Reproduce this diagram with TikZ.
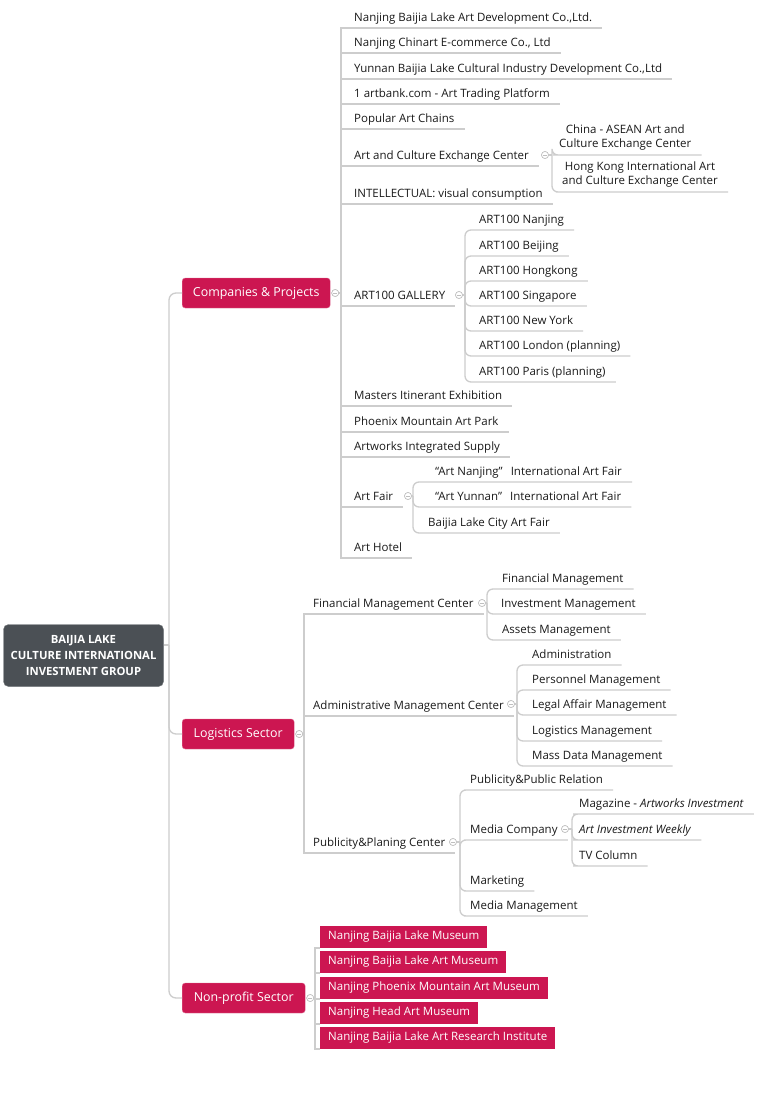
\documentclass[tikz,border=0pt]{standalone}
\usepackage{fontspec}
\setmainfont{Open Sans}
\usetikzlibrary{positioning}

\definecolor{crimson}{HTML}{CC1651}
\definecolor{rootgray}{HTML}{4B5055}
\definecolor{linegray}{HTML}{CDCDCD}
\definecolor{ink}{HTML}{1A1A1A}
\newcommand\leaffont{\fontsize{11.5}{14}\selectfont}

\tikzset{
  root/.style={fill=rootgray, draw=rootgray!80!white, rounded corners=5pt, text=white,
    font=\bfseries\fontsize{11.3}{16}\selectfont, align=center,
    minimum width=160pt, minimum height=62pt},
  sector/.style={anchor=west, fill=crimson, draw=crimson!60!white, rounded corners=3pt,
    text=white, font=\fontsize{12.4}{14}\selectfont, minimum height=30pt},
  museum/.style={anchor=south west, fill=crimson, text=white, font=\leaffont,
    minimum height=22pt, inner xsep=8pt},
  leaf/.style={anchor=south west, inner sep=0pt, text height=15.5pt, text depth=6.5pt,
    text=ink, font=\leaffont},
  twoline/.style={anchor=south west, inner xsep=0pt, inner ysep=4.5pt, align=center,
    text=ink, font=\fontsize{11.5}{14}\selectfont},
  foldmark/.style={circle, draw=gray!50, fill=white, line width=0.6pt, inner sep=0pt,
    minimum size=7pt, path picture={\draw[gray!50, line width=0.6pt]
      ([xshift=1.5pt]path picture bounding box.west) --
      ([xshift=-1.5pt]path picture bounding box.east);}},
  uline/.style={draw=linegray, line width=1.3pt},
  ul/.style={to path={|- (\tikztotarget.south west) -- ([xshift=10pt]\tikztotarget.south east)}},
  tohub/.style={to path={|- (\tikztotarget.west)}},
  tobox/.style={to path={|- (\tikztotarget.south west)}},
}

\begin{document}
\begin{tikzpicture}[x=1pt, y=-1pt]
  \useasboundingbox (0,0) rectangle (762,1109);
  \fill[white] (0,0) rectangle (762,1109);

  % root and the three sectors
  \node[root] (root) at (83.5,655.5) {BAIJIA LAKE\\CULTURE INTERNATIONAL\\INVESTMENT GROUP};
  \coordinate (hub) at (169,645);
  \node[sector, minimum width=148pt] (cp) at (182,293) {Companies \& Projects};
  \node[sector, minimum width=112pt] (ls) at (182,734) {Logistics Sector};
  \node[sector, minimum width=123pt] (np) at (182,998) {Non-profit Sector};
  \node[foldmark, right=1pt of cp] (cp-m) {};
  \node[foldmark, right=1pt of ls] (ls-m) {};
  \node[foldmark, right=1pt of np] (np-m) {};
  \coordinate[right=2pt of cp-m] (cp-j);
  \coordinate[right=1pt of ls-m] (ls-j);
  \coordinate[right=1pt of np-m] (np-j);

  % companies & projects
  \node[leaf] (c1)  at (354,28)  {Nanjing Baijia Lake Art Development Co.,Ltd.};
  \node[leaf] (c2)  at (354,53)  {Nanjing Chinart E-commerce Co., Ltd};
  \node[leaf] (c3)  at (354,79)  {Yunnan Baijia Lake Cultural Industry Development Co.,Ltd};
  \node[leaf] (c4)  at (354,104) {1 artbank.com - Art Trading Platform};
  \node[leaf] (c5)  at (354,129) {Popular Art Chains};
  \node[leaf] (ac)  at (354,166) {Art and Culture Exchange Center};
  \node[leaf] (c7)  at (354,204) {INTELLECTUAL: visual consumption};
  \node[leaf] (ag)  at (354,306) {ART100 GALLERY};
  \node[leaf] (c9)  at (354,406) {Masters Itinerant Exhibition};
  \node[leaf] (c10) at (354,432) {Phoenix Mountain Art Park};
  \node[leaf] (c11) at (354,457) {Artworks Integrated Supply};
  \node[leaf] (af)  at (354,507) {Art Fair};
  \node[leaf] (c13) at (354,558) {Art Hotel};

  \node[foldmark] (ac-m) at (545,155) {};
  \coordinate (ac-j) at (552,155);
  \node[twoline] (ac1) at (559,155) {China - ASEAN Art and\\Culture Exchange Center};
  \node[twoline] (ac2) at (562,192) {Hong Kong International Art\\and Culture Exchange Center};

  \node[foldmark] (ag-m) at (459,295) {};
  \coordinate (ag-j) at (465,295);
  \node[leaf] (g1) at (479,230) {ART100 Nanjing};
  \node[leaf] (g2) at (479,256) {ART100 Beijing};
  \node[leaf] (g3) at (479,281) {ART100 Hongkong};
  \node[leaf] (g4) at (479,306) {ART100 Singapore};
  \node[leaf] (g5) at (479,331) {ART100 New York};
  \node[leaf] (g6) at (479,356) {ART100 London (planning)};
  \node[leaf] (g7) at (479,382) {ART100 Paris (planning)};

  \node[foldmark] (af-m) at (408,496) {};
  \coordinate (af-j) at (413,496);
  \node[leaf] (f1) at (435,482) {“Art Nanjing”\hspace{8pt}International Art Fair};
  \node[leaf] (f2) at (435,507) {“Art Yunnan”\hspace{8pt}International Art Fair};
  \node[leaf] (f3) at (428,533) {Baijia Lake City Art Fair};

  % logistics sector
  \node[leaf] (fm) at (313,614) {Financial Management Center};
  \node[leaf] (am) at (313,716) {Administrative Management Center};
  \node[leaf] (pp) at (313,853) {Publicity\&Planing Center};

  \node[foldmark] (fm-m) at (482,603) {};
  \coordinate (fm-j) at (487,603);
  \node[leaf] (m1) at (502,589) {Financial Management};
  \node[leaf] (m2) at (501,614) {Investment Management};
  \node[leaf] (m3) at (502,640) {Assets Management};

  \node[foldmark] (am-m) at (511,704) {};
  \coordinate (am-j) at (517,704);
  \node[leaf] (a1) at (532,665) {Administration};
  \node[leaf] (a2) at (532,690) {Personnel Management};
  \node[leaf] (a3) at (532,715) {Legal Affair Management};
  \node[leaf] (a4) at (532,741) {Logistics Management};
  \node[leaf] (a5) at (532,766) {Mass Data Management};

  \node[foldmark] (pp-m) at (453,842) {};
  \coordinate (pp-j) at (460,842);
  \node[leaf] (p1) at (470,790) {Publicity\&Public Relation};
  \node[leaf] (mc) at (470,840) {Media Company};
  \node[leaf] (p3) at (470,891) {Marketing};
  \node[leaf] (p4) at (470,916) {Media Management};

  \node[foldmark] (mc-m) at (565,829) {};
  \coordinate (mc-j) at (572,829);
  \node[leaf] (d1) at (579,814) {Magazine - \textit{Artworks Investment}};
  \node[leaf] (d2) at (579,840) {\textit{Art Investment Weekly}};
  \node[leaf] (d3) at (579,866) {TV Column};

  % non-profit sector
  \node[museum] (n1) at (320,948)  {Nanjing Baijia Lake Museum};
  \node[museum] (n2) at (320,973)  {Nanjing Baijia Lake Art Museum};
  \node[museum] (n3) at (320,999)  {Nanjing Phoenix Mountain Art Museum};
  \node[museum] (n4) at (320,1024) {Nanjing Head Art Museum};
  \node[museum] (n5) at (320,1049) {Nanjing Baijia Lake Art Research Institute};

  % connectors
  \draw[uline] (root.east |- hub) -- (hub);
  \path[uline, rounded corners=7pt] (hub) edge[tohub] (cp) edge[tohub] (ls) edge[tohub] (np);

  \draw[uline] (cp-m) -- (cp-j);
  \path[uline] (cp-j) edge[ul] (c1) edge[ul] (c2) edge[ul] (c3) edge[ul] (c4) edge[ul] (c5)
    edge[ul] (ac) edge[ul] (c7) edge[ul] (ag) edge[ul] (c9) edge[ul] (c10) edge[ul] (c11)
    edge[ul] (af) edge[ul] (c13);
  \draw[uline] (ac-m) -- (ac-j);
  \path[uline, rounded corners=6pt] (ac-j) edge[ul] (ac1) edge[ul] (ac2);
  \draw[uline] (ag-m) -- (ag-j);
  \path[uline, rounded corners=6pt] (ag-j) edge[ul] (g1) edge[ul] (g2) edge[ul] (g3)
    edge[ul] (g4) edge[ul] (g5) edge[ul] (g6) edge[ul] (g7);
  \draw[uline] (af-m) -- (af-j);
  \path[uline, rounded corners=6pt] (af-j) edge[ul] (f1) edge[ul] (f2) edge[ul] (f3);

  \draw[uline] (ls-m) -- (ls-j);
  \path[uline] (ls-j) edge[ul] (fm) edge[ul] (am) edge[ul] (pp);
  \draw[uline] (fm-m) -- (fm-j);
  \path[uline, rounded corners=6pt] (fm-j) edge[ul] (m1) edge[ul] (m2) edge[ul] (m3);
  \draw[uline] (am-m) -- (am-j);
  \path[uline, rounded corners=6pt] (am-j) edge[ul] (a1) edge[ul] (a2) edge[ul] (a3)
    edge[ul] (a4) edge[ul] (a5);
  \draw[uline] (pp-m) -- (pp-j);
  \path[uline, rounded corners=6pt] (pp-j) edge[ul] (p1) edge[ul] (mc) edge[ul] (p3) edge[ul] (p4);
  \draw[uline] (mc-m) -- (mc-j);
  \path[uline, rounded corners=6pt] (mc-j) edge[ul] (d1) edge[ul] (d2) edge[ul] (d3);

  \draw[uline] (np-m) -- (np-j);
  \path[uline] (np-j) edge[tobox] (n1) edge[tobox] (n2) edge[tobox] (n3) edge[tobox] (n4)
    edge[tobox] (n5);

  % redraw the fold marks over the lines
  \foreach \m in {cp-m, ls-m, np-m, ac-m, ag-m, af-m, fm-m, am-m, pp-m, mc-m}
    \node[foldmark] at (\m) {};
\end{tikzpicture}
\end{document}
